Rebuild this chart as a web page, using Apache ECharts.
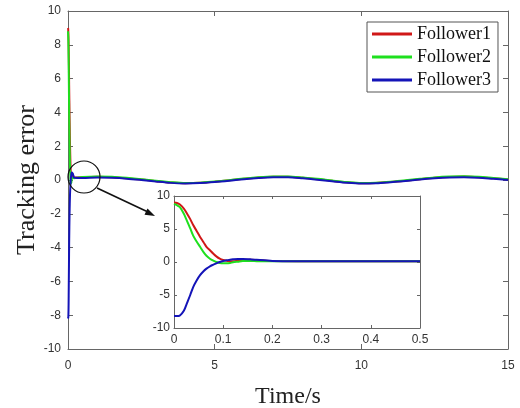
<html>
    <head>
        <meta charset="utf-8">
        <script src="https://cdn.jsdelivr.net/npm/echarts@6/dist/echarts.min.js"></script>
        <style>
            html, body { margin: 0; padding: 0; background: #fff; }
            #main { width: 520px; height: 408px; }
        </style>
    </head>
    <body>
        <div id="main"></div>
        <script>
            // transient part (t in s)
            var tInit  = [0, 0.006, 0.012, 0.02, 0.026, 0.033, 0.039, 0.046, 0.053, 0.06, 0.066, 0.073, 0.08, 0.086, 0.093, 0.1, 0.107, 0.114, 0.12, 0.13, 0.14, 0.155, 0.168, 0.185, 0.2, 0.3, 0.4];
            var f1Init = [9.0, 8.95, 8.7, 8.1, 7.4, 6.5, 5.6, 4.7, 3.8, 3.0, 2.3, 1.77, 1.25, 0.85, 0.5, 0.3, 0.2, 0.1, 0.1, 0.2, 0.3, 0.35, 0.3, 0.2, 0.15, 0.1, 0.1];
            var f2Init = [8.8, 8.6, 8.3, 7.3, 6.3, 5.1, 4.0, 3.1, 2.3, 1.5, 0.95, 0.5, 0.2, 0.0, -0.15, -0.2, -0.2, -0.15, -0.05, 0.05, 0.15, 0.15, 0.12, 0.1, 0.1, 0.1, 0.1];
            var f3Init = [-8.2, -8.2, -8.1, -7.4, -6.3, -5.0, -3.8, -2.8, -2.0, -1.4, -1.0, -0.65, -0.4, -0.2, 0.0, 0.15, 0.25, 0.35, 0.4, 0.45, 0.45, 0.4, 0.35, 0.25, 0.15, 0.1, 0.1];

            // slow oscillation after convergence
            var tSlow  = [0.5, 1, 1.5, 2, 2.5, 3, 3.5, 4, 4.5, 5, 5.5, 6, 6.5, 7, 7.5, 8, 8.5, 9, 9.5, 10, 10.5, 11, 11.5, 12, 12.5, 13, 13.5, 14, 14.5, 15];
            var f1Slow = [0.16, 0.19, 0.17, 0.11, 0.03, -0.07, -0.15, -0.19, -0.17, -0.1, -0.02, 0.07, 0.15, 0.19, 0.19, 0.13, 0.05, -0.05, -0.14, -0.19, -0.18, -0.12, -0.04, 0.05, 0.13, 0.18, 0.2, 0.17, 0.1, 0.03];
            var f2Slow = [0.18, 0.21, 0.19, 0.13, 0.05, -0.05, -0.13, -0.18, -0.16, -0.09, -0.01, 0.09, 0.17, 0.21, 0.21, 0.15, 0.07, -0.03, -0.12, -0.18, -0.17, -0.11, -0.02, 0.07, 0.15, 0.2, 0.22, 0.19, 0.12, 0.05];
            var f3Slow = [0.12, 0.15, 0.13, 0.08, 0.0, -0.09, -0.17, -0.2, -0.18, -0.12, -0.04, 0.05, 0.12, 0.16, 0.16, 0.1, 0.02, -0.07, -0.16, -0.21, -0.19, -0.13, -0.06, 0.03, 0.1, 0.15, 0.17, 0.14, 0.07, 0.0];

            var names = ['Follower1', 'Follower2', 'Follower3'];
            var colors = ['#d01818', '#1ee01e', '#1414b8'];

            function pairs(t, v) {
                return t.map(function (x, i) { return [x, v[i]]; });
            }
            function fullData(tA, vA, tB, vB) {
                var out = [];
                tA.forEach(function (x, i) { if (x <= 0.2) out.push([x, vA[i]]); });
                return out.concat(pairs(tB, vB));
            }

            var chart = echarts.init(document.getElementById('main'));

            function tickFont(margin) {
                return { margin: margin, color: '#333', fontSize: 12, fontFamily: 'Liberation Sans' };
            }
            function axisLine() {
                return { show: true, onZero: false, lineStyle: { color: '#666', width: 1 } };
            }
            function ticks(len) {
                return { inside: true, length: len, lineStyle: { color: '#666' } };
            }

            var mainData = [
                fullData(tInit, f1Init, tSlow, f1Slow),
                fullData(tInit, f2Init, tSlow, f2Slow),
                fullData(tInit, f3Init, tSlow, f3Slow)
            ];
            var insetData = [
                pairs(tInit, f1Init).concat([[0.5, 0.1]]),
                pairs(tInit, f2Init).concat([[0.5, 0.1]]),
                pairs(tInit, f3Init).concat([[0.5, 0.1]])
            ];

            var series = [];
            for (var i = 0; i < 3; i++) {
                series.push({
                    name: names[i], type: 'line', data: mainData[i],
                    xAxisIndex: 0, yAxisIndex: 0, showSymbol: false, symbol: 'none',
                    lineStyle: { width: 2, color: colors[i] }, itemStyle: { color: colors[i] },
                    smooth: 0.3, animation: false
                });
            }
            for (var j = 0; j < 3; j++) {
                series.push({
                    name: names[j], type: 'line', data: insetData[j],
                    xAxisIndex: 2, yAxisIndex: 2, showSymbol: false, symbol: 'none',
                    lineStyle: { width: 2, color: colors[j] }, itemStyle: { color: colors[j] },
                    smooth: 0.3, z: 6, animation: false
                });
            }

            function sideAxis(grid, min, max, step, pos, len, z) {
                return {
                    type: 'value', gridIndex: grid, min: min, max: max, interval: step, position: pos, z: z,
                    axisLine: axisLine(), axisTick: ticks(len),
                    axisLabel: { show: false }, splitLine: { show: false }
                };
            }

            option = {
                animation: false,
                backgroundColor: '#fff',
                grid: [
                    { left: 68, top: 11, width: 440, height: 338, show: false, outerBoundsMode: 'none', containLabel: false },
                    { left: 174, top: 196, width: 246, height: 132, show: true, backgroundColor: '#fff', borderWidth: 0, z: 3, outerBoundsMode: 'none', containLabel: false }
                ],
                legend: {
                    left: 367, top: 22, orient: 'vertical',
                    data: names.map(function (n, k) { return { name: n, icon: 'rect', itemStyle: { color: colors[k] } }; }),
                    itemWidth: 40, itemHeight: 3, itemGap: 5,
                    padding: [3, 7, 3, 5],
                    borderColor: '#555', borderWidth: 1, backgroundColor: '#fff',
                    textStyle: { fontFamily: 'Liberation Serif', fontSize: 18, color: '#111' },
                    selectedMode: false
                },
                xAxis: [
                    {
                        type: 'value', gridIndex: 0, min: 0, max: 15, interval: 5,
                        axisLine: axisLine(), axisTick: ticks(5),
                        axisLabel: tickFont(11), splitLine: { show: false },
                        name: 'Time/s', nameLocation: 'middle', nameGap: 36,
                        nameTextStyle: { fontFamily: 'Liberation Serif', fontSize: 24, color: '#222' }
                    },
                    sideAxis(0, 0, 15, 5, 'top', 5, 0),
                    {
                        type: 'value', gridIndex: 1, min: 0, max: 0.5, interval: 0.1, z: 5,
                        axisLine: axisLine(), axisTick: ticks(3),
                        axisLabel: tickFont(6), splitLine: { show: false }
                    },
                    sideAxis(1, 0, 0.5, 0.1, 'top', 3, 5)
                ],
                yAxis: [
                    {
                        type: 'value', gridIndex: 0, min: -10, max: 10, interval: 2,
                        axisLine: axisLine(), axisTick: ticks(5),
                        axisLabel: tickFont(7), splitLine: { show: false },
                        name: 'Tracking error', nameLocation: 'middle', nameGap: 28, nameMoveOverlap: false,
                        nameTextStyle: { fontFamily: 'Liberation Serif', fontSize: 26, color: '#222' }
                    },
                    sideAxis(0, -10, 10, 2, 'right', 5, 0),
                    {
                        type: 'value', gridIndex: 1, min: -10, max: 10, interval: 5, z: 5,
                        axisLine: axisLine(), axisTick: ticks(3),
                        axisLabel: tickFont(4), splitLine: { show: false }
                    },
                    sideAxis(1, -10, 10, 5, 'right', 3, 5)
                ],
                graphic: [
                    { type: 'circle', shape: { cx: 84, cy: 177, r: 16 }, style: { fill: 'none', stroke: '#111', lineWidth: 1.2 }, z: 10 },
                    { type: 'line', shape: { x1: 97, y1: 188, x2: 148, y2: 212 }, style: { stroke: '#111', lineWidth: 1.5 }, z: 10 },
                    { type: 'polygon', shape: { points: [[155, 216], [144.5, 214.8], [147.5, 208.5]] }, style: { fill: '#111' }, z: 10 }
                ],
                series: series
            };
            chart.setOption(option);
        </script>
    </body>
</html>
